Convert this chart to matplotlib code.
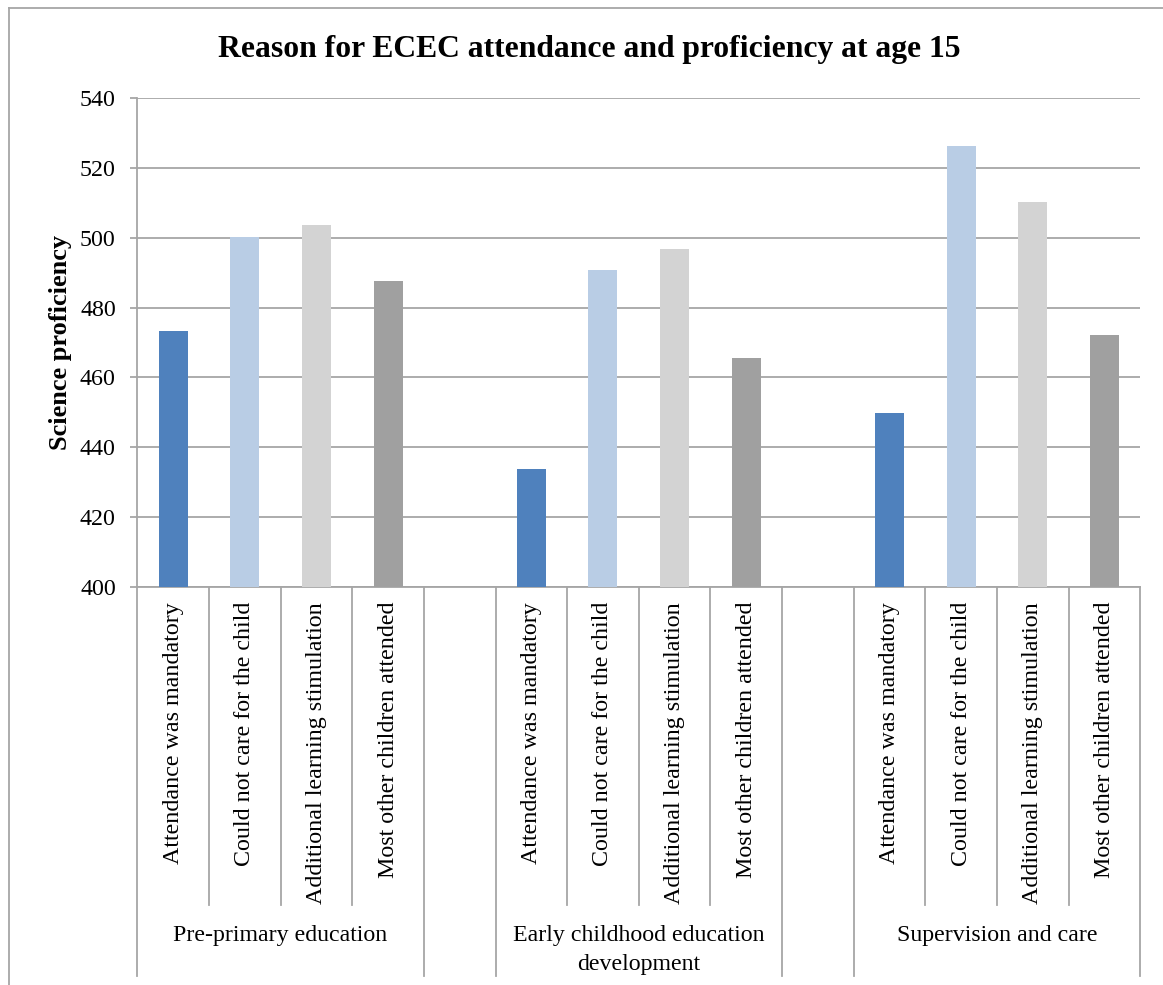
import matplotlib
matplotlib.use("Agg")
import matplotlib.pyplot as plt
from matplotlib.lines import Line2D
import matplotlib.transforms as mtransforms

plt.rcParams['font.family'] = ['Liberation Serif', 'DejaVu Serif']

# ---- data ----
title = "Reason for ECEC attendance and proficiency at age 15"
ylabel = "Science proficiency"
groups = ["Pre-primary education", "Early childhood education\ndevelopment", "Supervision and care"]
reasons = ["Attendance was mandatory", "Could not care for the child",
           "Additional learning stimulation", "Most other children attended"]
pre_primary = [473.2, 500.2, 503.6, 487.5]
early_childhood = [433.9, 490.7, 496.7, 465.6]
supervision = [449.9, 526.2, 510.1, 472.1]
values = [pre_primary, early_childhood, supervision]
bar_colors = ["#4F81BD", "#B9CDE5", "#D3D3D3", "#A0A0A0"]
yticks = [400, 420, 440, 460, 480, 500, 520, 540]

W, H = 1163, 985
fig = plt.figure(figsize=(W / 100, H / 100), dpi=100)
fig.patch.set_facecolor("white")

ax_l, ax_r, ax_t, ax_b = 137.3, 1140.3, 97.7, 587.3
ax = fig.add_axes([ax_l / W, 1 - ax_b / H, (ax_r - ax_l) / W, (ax_b - ax_t) / H])

grid_c = "#A6A6A6"
n_per = len(reasons)
slot = n_per + 1
n_slots = len(groups) * slot - 1

for g, vals in enumerate(values):
    for i, v in enumerate(vals):
        xc = g * slot + i + 0.5
        ax.bar(xc, v - 400, bottom=400, width=0.405, color=bar_colors[i], zorder=3)

ax.set_xlim(0, n_slots)
ax.set_ylim(400, 540)
ax.set_yticks(yticks)
ax.set_yticklabels([str(t) for t in yticks], fontsize=17.3)
ax.yaxis.grid(True, color=grid_c, linewidth=1.3, zorder=0)
ax.set_axisbelow(True)
ax.set_xticks([])
for s in ["top", "right"]:
    ax.spines[s].set_visible(False)
for s in ["left", "bottom"]:
    ax.spines[s].set_color(grid_c)
    ax.spines[s].set_linewidth(1.3)
ax.tick_params(axis="y", length=5, width=1.3, color=grid_c, pad=10.5)

# category separators below the axis
trans = mtransforms.blended_transform_factory(ax.transData, fig.transFigure)
y_axis_fig = 1 - ax_b / H
y_lvl1 = 1 - 905 / H
y_lvl2 = 1 - 976 / H
for x in range(0, n_slots + 1):
    inner = (x % slot) not in (0, n_per)
    y_end = y_lvl1 if inner else y_lvl2
    fig.add_artist(Line2D([x, x], [y_axis_fig, y_end], transform=trans,
                          color=grid_c, linewidth=1.3, clip_on=False))

# category labels
y_lab_top = 1 - 602 / H
for g in range(len(groups)):
    for i, r in enumerate(reasons):
        xc = g * slot + i + 0.5
        fig.text(xc, y_lab_top, r, transform=trans, rotation=90, ha="center", va="top",
                 fontsize=17.3, color="black")
    gx = g * slot + n_per / 2
    fig.text(gx, 1 - 925 / H, groups[g], transform=trans, ha="center", va="top",
             fontsize=17.2, color="black", linespacing=1.48)

fig.text(589 / W, 1 - 56.7 / H, title, ha="center", va="baseline", fontsize=22.8,
         fontweight="bold")
fig.text(61 / W, 1 - 342.5 / H, ylabel, ha="center", va="center", rotation=90,
         fontsize=19, fontweight="bold")

# chart area border (top and left visible)
fig.add_artist(Line2D([8.5 / W, 1.0], [1 - 7.5 / H, 1 - 7.5 / H], transform=fig.transFigure,
                      color=grid_c, linewidth=1.3))
fig.add_artist(Line2D([8.5 / W, 8.5 / W], [1 - 7.5 / H, 0.0], transform=fig.transFigure,
                      color=grid_c, linewidth=1.3))

fig.savefig("out.png", dpi=100, facecolor="white")
